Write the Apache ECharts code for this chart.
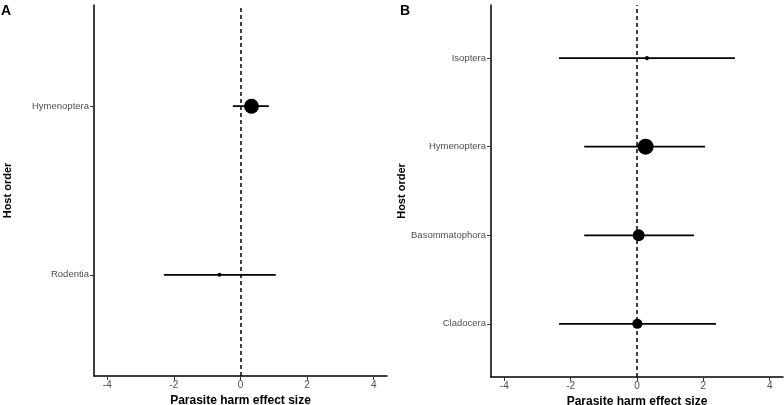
<!DOCTYPE html>
<html>
<head>
<meta charset="utf-8">
<script src="https://cdn.jsdelivr.net/npm/echarts@6/dist/echarts.min.js"></script>
<style>
html,body{margin:0;padding:0;background:#fff;}
#c{width:784px;height:405px;}
</style>
</head>
<body>
<div id="c"></div>
<script>
// Panel A data (bottom to top)
const catsA = ['Rodentia', 'Hymenoptera'];
const estA = [-0.63, 0.33];
const lowA = [-2.30, -0.23];
const highA = [1.06, 0.85];
const weightA = [0.08, 0.92];

// Panel B data (bottom to top)
const catsB = ['Cladocera', 'Basommatophora', 'Hymenoptera', 'Isoptera'];
const estB = [0.01, 0.05, 0.26, 0.30];
const lowB = [-2.35, -1.59, -1.59, -2.35];
const highB = [2.38, 1.72, 2.05, 2.95];
const weightB = [0.54, 0.69, 1.0, 0.08];

// x tick labels
const xTicks = [-4, -2, 0, 2, 4];

const FONT = '"Liberation Sans", Arial, Helvetica, sans-serif';
const sizeOf = w => 3 + 13 * w;

function xAxisCfg(gridIndex) {
  return {
    type: 'value', gridIndex: gridIndex, min: -4.4, max: 4.4,
    name: 'Parasite harm effect size', nameLocation: 'middle', nameGap: 13,
    nameTextStyle: { fontFamily: FONT, fontSize: 12, fontWeight: 'bold', color: '#000' },
    axisLine: { show: true, onZero: false, lineStyle: { color: '#000', width: 1.5 } },
    axisTick: { show: true, length: 4, lineStyle: { color: '#333', width: 1 }, customValues: xTicks },
    axisLabel: { customValues: xTicks, fontFamily: FONT, fontSize: 10, color: '#4d4d4d', margin: 4 },
    splitLine: { show: false }
  };
}
function yAxisCfg(gridIndex, cats) {
  const idx = cats.map((c, i) => i + 1);
  return {
    type: 'value', gridIndex: gridIndex, min: 0.4, max: cats.length + 0.6,
    name: 'Host order', nameLocation: 'middle', nameRotate: 90, nameGap: 81,
    nameTextStyle: { fontFamily: FONT, fontSize: 11, fontWeight: 'bold', color: '#000' },
    axisLine: { show: true, onZero: false, lineStyle: { color: '#000', width: 1.5 } },
    axisTick: { show: true, length: 4, lineStyle: { color: '#333', width: 1 }, customValues: idx },
    axisLabel: {
      customValues: idx, fontFamily: FONT, fontSize: 9.5, color: '#4d4d4d', margin: 5,
      formatter: v => cats[Math.round(v) - 1] || ''
    },
    splitLine: { show: false }
  };
}
function errSeries(gridIndex, low, high) {
  return {
    type: 'custom', xAxisIndex: gridIndex, yAxisIndex: gridIndex,
    data: low.map((l, i) => [l, high[i], i + 1]),
    renderItem: function (params, api) {
      const a = api.coord([api.value(0), api.value(2)]);
      const b = api.coord([api.value(1), api.value(2)]);
      return { type: 'line', shape: { x1: a[0], y1: a[1], x2: b[0], y2: b[1] },
        style: { stroke: '#000', lineWidth: 1.8 } };
    },
    z: 3, silent: true
  };
}
function zeroLine(gridIndex) {
  return {
    type: 'line', xAxisIndex: gridIndex, yAxisIndex: gridIndex, data: [],
    markLine: {
      silent: true, symbol: ['none', 'none'], label: { show: false },
      lineStyle: { color: '#000', type: [4, 3], width: 1.5 },
      data: [{ xAxis: 0 }]
    }, z: 2
  };
}
function ptSeries(gridIndex, est, weight) {
  return {
    type: 'scatter', xAxisIndex: gridIndex, yAxisIndex: gridIndex,
    data: est.map((e, i) => [e, i + 1, weight[i]]),
    symbol: 'circle',
    symbolSize: v => sizeOf(v[2]),
    itemStyle: { color: '#000', opacity: 1 },
    z: 4, silent: true
  };
}

const chart = echarts.init(document.getElementById('c'), null, { renderer: 'canvas' });
chart.setOption({
  animation: false,
  backgroundColor: '#fff',
  grid: [
    { left: 94, right: 397, top: 5, bottom: 29, outerBoundsMode: 'none', containLabel: false },
    { left: 491, right: 1, top: 5, bottom: 28, outerBoundsMode: 'none', containLabel: false }
  ],
  xAxis: [xAxisCfg(0), xAxisCfg(1)],
  yAxis: [yAxisCfg(0, catsA), yAxisCfg(1, catsB)],
  graphic: [
    { type: 'text', left: 1, top: 4, style: { text: 'A', fontFamily: FONT, fontSize: 14, fontWeight: 'bold', fill: '#000' } },
    { type: 'text', left: 400, top: 4, style: { text: 'B', fontFamily: FONT, fontSize: 14, fontWeight: 'bold', fill: '#000' } }
  ],
  series: [
    zeroLine(0), errSeries(0, lowA, highA), ptSeries(0, estA, weightA),
    zeroLine(1), errSeries(1, lowB, highB), ptSeries(1, estB, weightB)
  ]
});
</script>
</body>
</html>
